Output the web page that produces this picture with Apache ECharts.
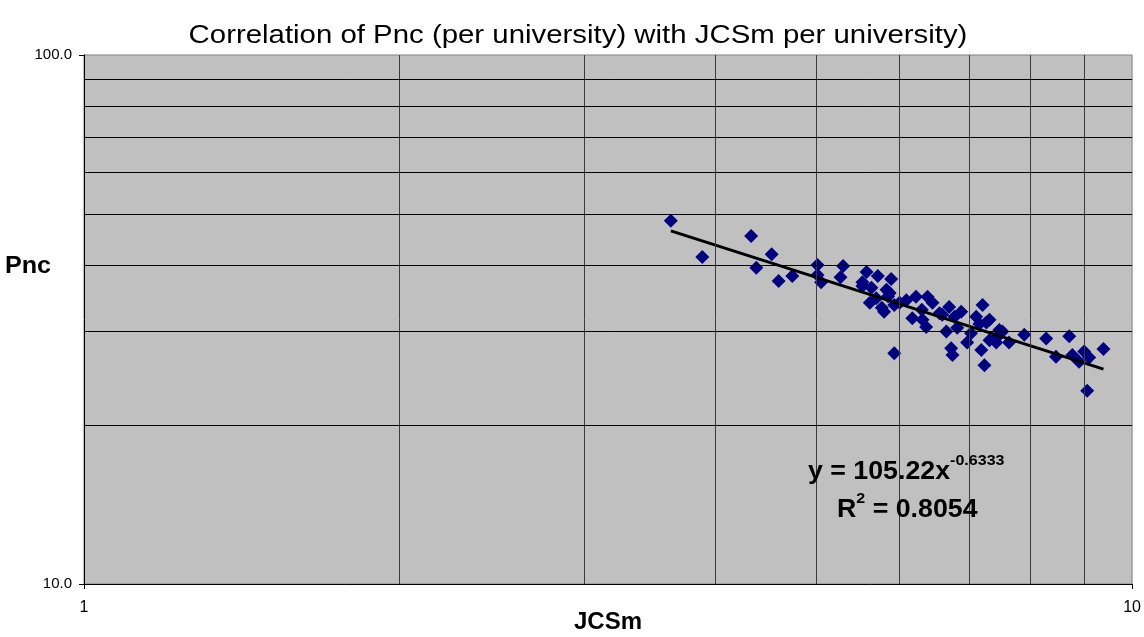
<!DOCTYPE html>
<html>
<head>
<meta charset="utf-8">
<title>Pnc vs JCSm</title>
<script src="https://cdn.jsdelivr.net/npm/echarts@6/dist/echarts.min.js"></script>
<style>
  html, body { margin: 0; padding: 0; background: #ffffff; }
  #chart { width: 1144px; height: 637px; }
</style>
</head>
<body>
<div id="chart"></div>
<script>
// JCSm and Pnc per university
var jcsm = [3.63, 3.89, 4.33, 4.53, 4.38, 4.60, 4.74, 5.01, 5.01, 5.05,
            5.30, 5.27, 5.58, 5.72, 5.89, 5.53, 5.64, 5.83, 5.87, 5.70,
            5.62, 5.77, 5.80, 5.93, 6.09, 6.17, 5.93, 6.00, 6.22, 6.38,
            6.45, 6.36, 6.31, 6.55, 6.69, 6.77, 6.59, 6.65, 6.81, 6.72,
            6.74, 7.20, 7.10, 7.26, 7.02, 6.96, 7.18, 7.23, 7.42, 7.52,
            7.31, 7.31, 7.89, 7.42, 7.63, 8.28, 8.71, 8.46, 8.77, 8.90,
            9.00, 9.10, 9.39, 9.06, 5.53, 6.87, 7.47, 7.15, 6.30, 5.85];
var pnc  = [48.6, 41.5, 45.5, 42.0, 39.6, 37.4, 38.2, 40.1, 38.4, 37.2,
            39.9, 38.0, 38.9, 38.2, 37.7, 36.6, 36.3, 36.0, 35.5, 34.7,
            34.0, 33.3, 32.7, 33.7, 34.4, 31.8, 27.3, 34.0, 34.9, 34.9,
            34.0, 30.6, 31.6, 32.5, 33.4, 32.0, 32.3, 30.0, 30.5, 27.9,
            27.1, 33.7, 32.0, 31.2, 29.8, 28.6, 27.7, 25.9, 29.2, 30.0,
            28.9, 31.6, 29.6, 28.6, 28.6, 29.1, 29.4, 26.9, 27.1, 26.3,
            27.5, 26.8, 27.8, 23.2, 37.2, 32.7, 30.2, 31.0, 33.0, 35.0];

// power-law fit: y = a * x^b
var fitA = 105.22;
var fitB = -0.6333;
var fitR2 = 0.8054;

// log-axis range and minor gridline values
var xRange = [1, 10];
var yRange = [10, 100];
var xMinor = [2, 3, 4, 5, 6, 7, 8, 9];
var yMinor = [20, 30, 40, 50, 60, 70, 80, 90];

var points = jcsm.map(function (x, i) { return [x, pnc[i]]; });
var xLo = Math.min.apply(null, jcsm);
var xHi = Math.max.apply(null, jcsm);
var trend = [[xLo, fitA * Math.pow(xLo, fitB)], [xHi, fitA * Math.pow(xHi, fitB)]];

var gridLines = xMinor.map(function (v) { return { xAxis: v, lineStyle: { color: '#3a3a3a' } }; })
  .concat(yMinor.map(function (v) { return { yAxis: v }; }));

var font = '"Liberation Sans", Arial, sans-serif';

function label(text, x, y, size, weight, sx) {
  return {
    type: 'text', x: x, y: y, scaleX: sx, z: 10, silent: true,
    style: {
      text: text, x: 0, y: 0, align: 'center', verticalAlign: 'middle',
      font: weight + ' ' + size + 'px ' + font, fill: '#000000'
    }
  };
}

var richStyles = {
  b: { fontFamily: font, fontSize: 25, fontWeight: 'bold', fill: '#000000', lineHeight: 32, verticalAlign: 'bottom' },
  s: { fontFamily: font, fontSize: 15, fontWeight: 'bold', fill: '#000000', lineHeight: 32, verticalAlign: 'top' }
};

var chart = echarts.init(document.getElementById('chart'), null, { renderer: 'canvas' });
chart.setOption({
  animation: false,
  backgroundColor: '#ffffff',
  textStyle: { fontFamily: font },
  grid: {
    left: 84, right: 11, top: 55, bottom: 53,
    show: true,
    backgroundColor: '#c0c0c0',
    borderColor: '#808080',
    borderWidth: 1
  },
  xAxis: {
    type: 'log',
    logBase: 10,
    min: xRange[0],
    max: xRange[1],
    axisLine: { show: true, lineStyle: { color: '#000000', width: 1 } },
    axisTick: { show: true, length: 5, lineStyle: { color: '#000000' } },
    axisLabel: {
      margin: 16,
      fontFamily: font, fontSize: 16, color: '#000000',
      formatter: function (v) { return String(Math.round(v)); }
    },
    splitLine: { show: false },
    minorTick: { show: false },
    minorSplitLine: { show: false }
  },
  yAxis: {
    type: 'log',
    logBase: 10,
    min: yRange[0],
    max: yRange[1],
    axisLine: { show: true, lineStyle: { color: '#000000', width: 1 } },
    axisTick: { show: true, length: 5, lineStyle: { color: '#000000' } },
    axisLabel: {
      margin: 12,
      fontFamily: font, fontSize: 15, color: '#000000',
      formatter: function (v) { return Number(v).toFixed(1); }
    },
    splitLine: { show: false },
    minorTick: { show: false },
    minorSplitLine: { show: false }
  },
  series: [
    {
      // minor gridlines at 2..9 and 20..90
      type: 'line',
      data: [],
      z: 1,
      silent: true,
      markLine: {
        silent: true,
        symbol: ['none', 'none'],
        label: { show: false },
        lineStyle: { color: '#000000', width: 1, type: 'solid' },
        emphasis: { disabled: true },
        data: gridLines
      }
    },
    {
      type: 'scatter',
      data: points,
      symbol: 'diamond',
      symbolSize: 14,
      z: 3,
      itemStyle: { color: '#000080', opacity: 1 }
    },
    {
      type: 'line',
      data: trend,
      z: 4,
      symbol: 'none',
      silent: true,
      lineStyle: { color: '#000000', width: 3 }
    }
  ],
  graphic: [
    label('Correlation of Pnc (per university) with JCSm per university)', 578, 36, 26, 'normal', 1.13),
    label('Pnc', 28, 266, 24, 'bold', 1.05),
    label('JCSm', 608, 622, 24, 'bold', 1.0),
    {
      type: 'text', x: 808, y: 453, scaleX: 1.07, z: 10, silent: true,
      style: {
        text: '{b|y = ' + fitA.toFixed(2) + 'x}{s|' + fitB.toFixed(4) + '}',
        rich: richStyles
      }
    },
    {
      type: 'text', x: 837, y: 491, scaleX: 1.07, z: 10, silent: true,
      style: {
        text: '{b|R}{s|2}{b| = ' + fitR2.toFixed(4) + '}',
        rich: richStyles
      }
    }
  ]
});
</script>
</body>
</html>
